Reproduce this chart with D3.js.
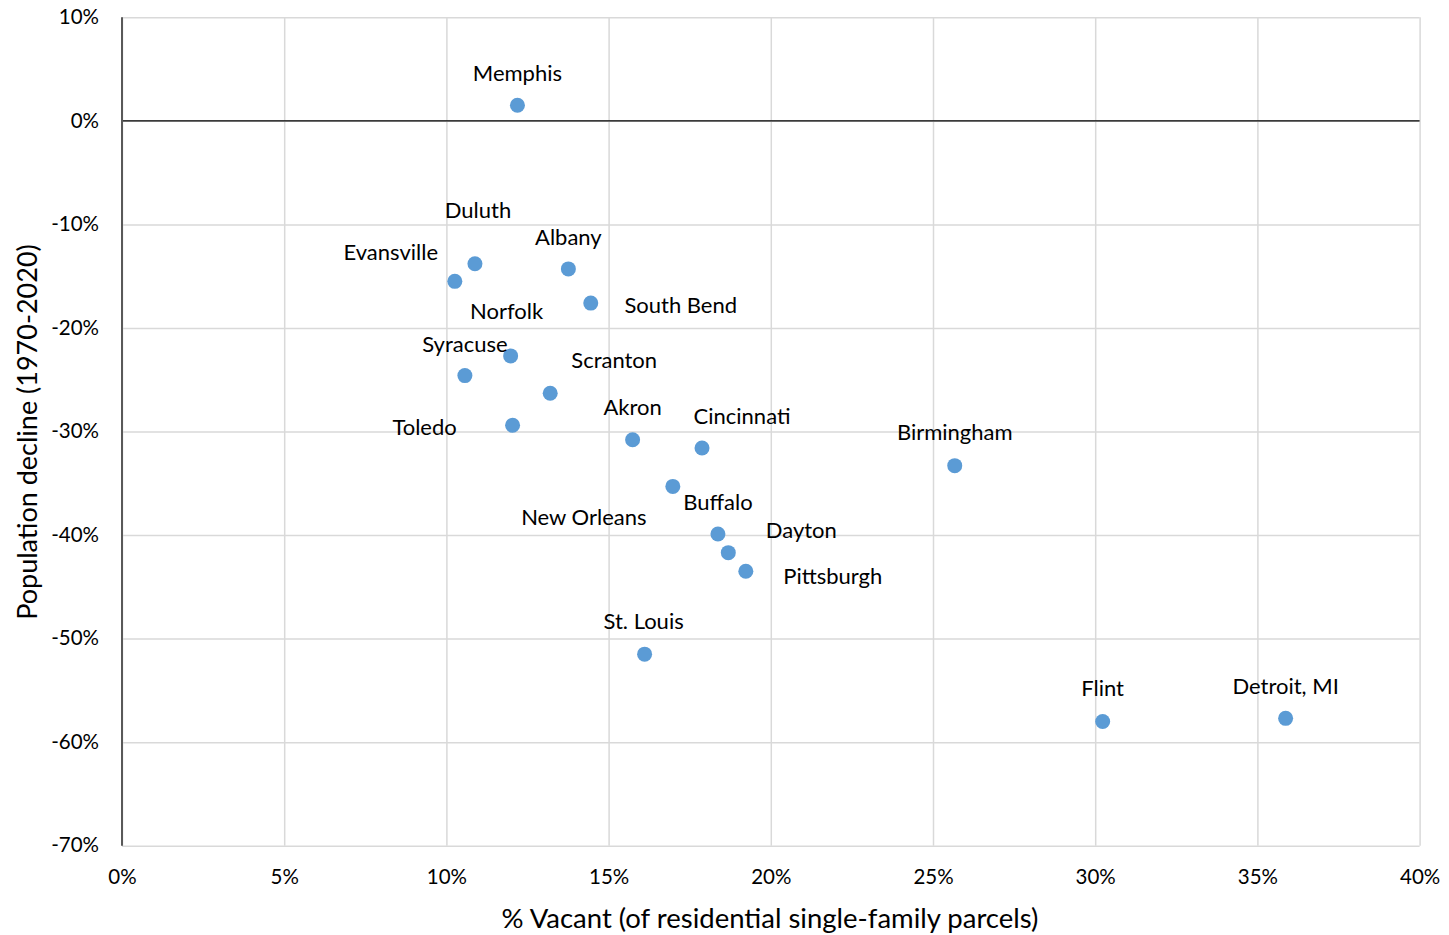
<!DOCTYPE html>
<html>
<head>
<meta charset="utf-8">
<script src="https://cdn.jsdelivr.net/npm/d3@7"></script>
<style>
  body { margin: 0; background: #fff; }
  text { font-family: Lato, "Open Sans", sans-serif; fill: #000; }
</style>
</head>
<body>
<svg id="chart" width="1449" height="935"></svg>
<script>
// Shrinking cities: share of vacant single-family parcels vs. population change 1970-2020
const cities = [
  "Memphis", "Duluth", "Evansville", "Albany", "South Bend", "Norfolk",
  "Syracuse", "Scranton", "Toledo", "Akron", "Cincinnati", "New Orleans",
  "Buffalo", "Dayton", "Pittsburgh", "St. Louis", "Flint", "Detroit, MI",
  "Birmingham"
];
const vacantPct = [
  12.19, 10.88, 10.26, 13.76, 14.45, 11.98,
  10.57, 13.20, 12.04, 15.74, 17.88, 16.98,
  18.37, 18.69, 19.23, 16.11, 30.23, 35.87,
  25.67
];
const popChangePct = [
  1.5, -13.8, -15.5, -14.3, -17.6, -22.7,
  -24.6, -26.3, -29.4, -30.8, -31.6, -35.3,
  -39.9, -41.7, -43.5, -51.5, -58.0, -57.7,
  -33.3
];
const xTicks = [0, 5, 10, 15, 20, 25, 30, 35, 40];
const yTicks = [10, 0, -10, -20, -30, -40, -50, -60, -70];
const xTitle = "% Vacant (of residential single-family parcels)";
const yTitle = "Population decline (1970-2020)";

// Where each city's name sits relative to its dot (px)
const labelOffsets = [
  [0, -33], [3, -54], [-64, -30], [0, -32], [90, 1], [-4, -45],
  [0, -32], [64, -34], [-88, 1], [0, -33], [40, -33], [-89, 30],
  [0, -33], [73, -23], [87, 4], [-1, -34], [0, -34], [0, -33],
  [0, -34]
];

const svg = d3.select("#chart");
const plot = { left: 122, right: 1419.6, top: 17.3, bottom: 845.7 };

const x = d3.scaleLinear().domain([0, 40]).range([plot.left, plot.right]);
const y = d3.scaleLinear().domain([-70, 10]).range([plot.bottom, plot.top]);

const fmt = d => d + "%";

// Vertical gridlines
svg.append("g")
  .attr("transform", `translate(0,${plot.bottom})`)
  .call(d3.axisBottom(x).tickValues(xTicks).tickSize(-(plot.bottom - plot.top)).tickFormat(""))
  .call(g => g.select(".domain").remove())
  .call(g => g.selectAll("line").attr("stroke", "#d9d9d9").attr("stroke-width", 1.5));

// Horizontal gridlines
svg.append("g")
  .attr("transform", `translate(${plot.left},0)`)
  .call(d3.axisLeft(y).tickValues(yTicks).tickSize(-(plot.right - plot.left)).tickFormat(""))
  .call(g => g.select(".domain").remove())
  .call(g => g.selectAll("line").attr("stroke", "#d9d9d9").attr("stroke-width", 1.5));

// Zero reference line
svg.append("line")
  .attr("x1", plot.left).attr("x2", plot.right)
  .attr("y1", y(0)).attr("y2", y(0))
  .attr("stroke", "#000").attr("stroke-width", 1.2);

// Y axis line
svg.append("line")
  .attr("x1", plot.left).attr("x2", plot.left)
  .attr("y1", plot.top).attr("y2", plot.bottom)
  .attr("stroke", "#595959").attr("stroke-width", 2);

// Tick labels
svg.append("g")
  .attr("transform", `translate(${plot.left},0)`)
  .call(d3.axisLeft(y).tickValues(yTicks).tickSize(0).tickPadding(23).tickFormat(fmt))
  .call(g => g.select(".domain").remove())
  .call(g => g.selectAll("text").attr("font-size", 20.5).attr("dy", "0.3em")
    .style("font-family", "Lato, 'Open Sans', sans-serif").attr("fill", "#000"));

svg.append("g")
  .attr("transform", `translate(0,${plot.bottom})`)
  .call(d3.axisBottom(x).tickValues(xTicks).tickSize(0).tickPadding(24).tickFormat(fmt))
  .call(g => g.select(".domain").remove())
  .call(g => g.selectAll("text").attr("font-size", 20.5)
    .style("font-family", "Lato, 'Open Sans', sans-serif").attr("fill", "#000"));

// Axis titles
svg.append("text")
  .attr("x", 770).attr("y", 917)
  .attr("text-anchor", "middle").attr("dominant-baseline", "central")
  .attr("font-size", 27.5)
  .text(xTitle);

svg.append("text")
  .attr("transform", `translate(26,432) rotate(-90)`)
  .attr("text-anchor", "middle").attr("dominant-baseline", "central")
  .attr("font-size", 27)
  .text(yTitle);

// Points
const rows = cities.map((c, i) => ({
  name: c, vx: vacantPct[i], vy: popChangePct[i],
  dx: labelOffsets[i][0], dy: labelOffsets[i][1]
}));

svg.append("g").selectAll("circle")
  .data(rows).join("circle")
  .attr("cx", d => x(d.vx)).attr("cy", d => y(d.vy))
  .attr("r", 7.5)
  .attr("fill", "#5b9bd5");

// City labels
svg.append("g").selectAll("text")
  .data(rows).join("text")
  .attr("x", d => x(d.vx) + d.dx).attr("y", d => y(d.vy) + d.dy)
  .attr("text-anchor", "middle").attr("dominant-baseline", "central")
  .attr("font-size", 22)
  .text(d => d.name);
</script>
</body>
</html>
